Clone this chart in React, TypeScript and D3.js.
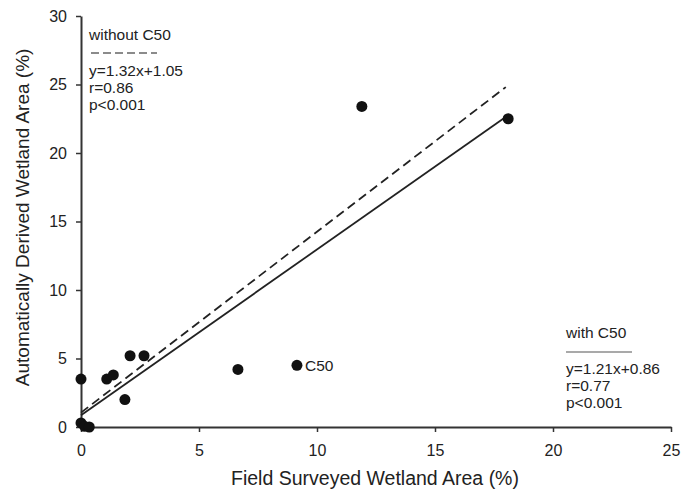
import React, { useEffect, useRef } from "react";
import * as d3 from "d3";

// field surveyed (x) vs automatically derived (y) wetland area, %
const fieldArea = [18.1, 11.9, 9.15, 6.65, 2.08, 2.67, 1.09, 1.37, 1.86, 0.0, 0.0, 0.15, 0.35];
const derivedArea = [22.5, 23.4, 4.5, 4.2, 5.2, 5.2, 3.5, 3.8, 2.0, 3.5, 0.3, 0.05, 0.0];
const xTicks = [0, 5, 10, 15, 20, 25];
const yTicks = [0, 5, 10, 15, 20, 25, 30];

// regression fits
const fitWith = { slope: 1.21, intercept: 0.86, xEnd: 18.1 };
const fitWithout = { slope: 1.32, intercept: 1.05, xEnd: 18.0 };
const legendWithout = ["y=1.32x+1.05", "r=0.86", "p<0.001"];
const legendWith = ["y=1.21x+0.86", "r=0.77", "p<0.001"];

const App = () => {
  const svgRef = useRef<SVGSVGElement>(null);
  const width = 681;
  const height = 495;

  useEffect(() => {
    const svg = d3.select(svgRef.current);
    svg.selectAll("*").remove();

    const x = d3.scaleLinear().domain([0, 25]).range([81, 671]);
    const y = d3.scaleLinear().domain([0, 30]).range([427, 16]);
    const ink = "#222";
    const font = "Liberation Sans, Arial, sans-serif";

    // axes
    const xAxis = svg
      .append("g")
      .attr("transform", `translate(0,${y(0)})`)
      .call(d3.axisBottom(x).tickValues(xTicks).tickSize(5).tickPadding(13).tickSizeOuter(0));
    const yAxis = svg
      .append("g")
      .attr("transform", `translate(${x(0)},0)`)
      .call(d3.axisLeft(y).tickValues(yTicks).tickSize(5).tickPadding(9).tickSizeOuter(0));

    [xAxis, yAxis].forEach((a) => {
      a.select(".domain").attr("stroke", "#333").attr("stroke-width", 2);
      a.selectAll(".tick line").attr("stroke", "#333").attr("stroke-width", 1.5);
      a.selectAll(".tick text")
        .attr("fill", ink)
        .style("font-family", font)
        .style("font-size", "16px");
    });

    // regression lines
    const fitLine = (f) =>
      d3.line()([
        [x(0), y(f.intercept)],
        [x(f.xEnd), y(f.slope * f.xEnd + f.intercept)],
      ]);

    svg
      .append("path")
      .attr("d", fitLine(fitWithout))
      .attr("fill", "none")
      .attr("stroke", ink)
      .attr("stroke-width", 1.8)
      .attr("stroke-dasharray", "9,5");

    svg
      .append("path")
      .attr("d", fitLine(fitWith))
      .attr("fill", "none")
      .attr("stroke", ink)
      .attr("stroke-width", 1.8);

    // points
    svg
      .selectAll(".dot")
      .data(fieldArea.map((v, i) => [v, derivedArea[i]]))
      .enter()
      .append("circle")
      .attr("class", "dot")
      .attr("cx", (d) => x(d[0]))
      .attr("cy", (d) => y(d[1]))
      .attr("r", 5.5)
      .attr("fill", "#111");

    const txt = (tx, ty, s, size = 15.5, anchor = "start") =>
      svg
        .append("text")
        .attr("x", tx)
        .attr("y", ty)
        .attr("text-anchor", anchor)
        .attr("fill", ink)
        .style("font-family", font)
        .style("font-size", `${size}px`)
        .text(s);

    // C50 label
    txt(x(9.15) + 8, y(4.5) + 6, "C50");

    // legend: without C50
    txt(89, 40, "without C50");
    svg.append("line")
      .attr("x1", 91).attr("x2", 157).attr("y1", 53).attr("y2", 53)
      .attr("stroke", "#666").attr("stroke-width", 1.3).attr("stroke-dasharray", "8,4");
    legendWithout.forEach((s, i) => txt(89, 76 + i * 17, s));

    // legend: with C50
    txt(566, 338, "with C50");
    svg.append("line")
      .attr("x1", 566).attr("x2", 632).attr("y1", 352).attr("y2", 352)
      .attr("stroke", "#555").attr("stroke-width", 1.2);
    legendWith.forEach((s, i) => txt(566, 374 + i * 17, s));

    // axis titles
    txt(375, 485, "Field Surveyed Wetland Area (%)", 19.5, "middle");
    txt(0, 0, "Automatically Derived Wetland Area (%)", 19, "middle")
      .attr("transform", `translate(29,${y(15.3)}) rotate(-90)`);
  }, []);

  return (
    <svg
      ref={svgRef}
      width={width}
      height={height}
      style={{ position: "absolute", left: 0, top: 0, background: "#fff" }}
    />
  );
};

export default App;
